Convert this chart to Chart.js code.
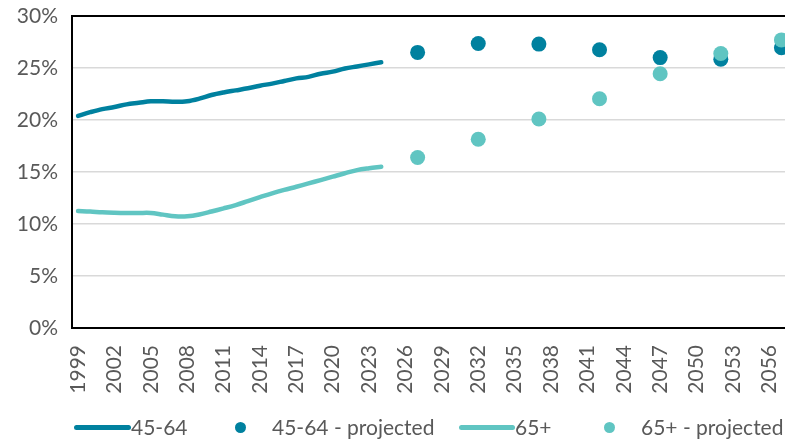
<!DOCTYPE html>
<html>
<head>
<meta charset="utf-8">
<script src="https://cdn.jsdelivr.net/npm/chart.js@4"></script>
<style>
html,body{margin:0;padding:0;background:#fff;}
#wrap{position:relative;width:785px;height:439px;overflow:hidden;}
canvas{position:absolute;left:0;top:0;}
.lg{position:absolute;font-family:Lato,sans-serif;font-size:21px;color:#595959;line-height:22px;white-space:nowrap;}
.ln{position:absolute;height:5px;border-radius:3px;}
.dt{position:absolute;width:11px;height:11px;border-radius:50%;}
</style>
</head>
<body>
<div id="wrap">
<canvas id="c" width="795" height="439"></canvas>
<div class="ln" style="left:74px;top:425px;width:57px;background:#00819F"></div>
<div class="lg" style="left:131px;top:416px">45-64</div>
<div class="dt" style="left:235px;top:422px;background:#00819F"></div>
<div class="lg" style="left:272px;top:416px">45-64 - projected</div>
<div class="ln" style="left:459px;top:425px;width:56px;background:#60C5C2"></div>
<div class="lg" style="left:515px;top:416px">65+</div>
<div class="dt" style="left:604px;top:422px;background:#60C5C2"></div>
<div class="lg" style="left:641px;top:416px">65+ - projected</div>
</div>
<script>
const startYear = 1999;
const endYear = 2057;
const histYears = [1999,2000,2001,2002,2003,2004,2005,2006,2007,2008,2009,2010,2011,2012,2013,2014,2015,2016,2017,2018,2019,2020,2021,2022,2023,2024];
const age4564 = [20.4,20.75,21.05,21.25,21.5,21.65,21.8,21.8,21.75,21.8,22.05,22.4,22.65,22.85,23.05,23.3,23.5,23.75,24.0,24.15,24.45,24.65,24.95,25.15,25.35,25.55];
const age65 = [11.25,11.2,11.12,11.08,11.06,11.06,11.06,10.9,10.75,10.75,10.92,11.2,11.5,11.82,12.2,12.58,12.95,13.28,13.58,13.9,14.22,14.55,14.88,15.18,15.36,15.5];
const projYears = [2027,2032,2037,2042,2047,2052,2057];
const proj4564 = [26.5,27.35,27.3,26.75,26.0,25.85,26.95];
const proj65 = [16.4,18.15,20.1,22.05,24.45,26.4,27.7];
const yTicks = [0,5,10,15,20,25,30];

const labels = [];
for (let y = startYear; y <= endYear; y++) labels.push(String(y));
function place(years, vals){
  const arr = labels.map(()=>null);
  years.forEach((y,i)=>{ arr[y-startYear] = vals[i]; });
  return arr;
}
const DARK = '#00819F', LIGHT = '#60C5C2';
new Chart(document.getElementById('c'), {
  type: 'line',
  data: {
    labels: labels,
    datasets: [
      {label:'65+ - projected', data: place(projYears, proj65), showLine:false, pointRadius:7.5, pointHoverRadius:7.5, backgroundColor:LIGHT, borderColor:LIGHT, pointBorderWidth:0, clip:false, order:0},
      {label:'45-64 - projected', data: place(projYears, proj4564), showLine:false, pointRadius:7.5, pointHoverRadius:7.5, backgroundColor:DARK, borderColor:DARK, pointBorderWidth:0, clip:false, order:1},
      {label:'65+', data: place(histYears, age65), borderColor:LIGHT, backgroundColor:LIGHT, borderWidth:4.5, pointRadius:0, tension:0.35, borderCapStyle:'round', spanGaps:false, order:2},
      {label:'45-64', data: place(histYears, age4564), borderColor:DARK, backgroundColor:DARK, borderWidth:4.5, pointRadius:0, tension:0.35, borderCapStyle:'round', spanGaps:false, order:3}
    ]
  },
  options: {
    responsive:false,
    animation:false,
    events:[],
    layout:{padding:{top:16,right:0,bottom:41,left:0}},
    plugins:{legend:{display:false},tooltip:{enabled:false}},
    scales:{
      x:{
        offset:true,
        grid:{display:false, drawTicks:false},
        border:{color:'#000',width:2},
        ticks:{
          autoSkip:false, maxRotation:90, minRotation:90, padding:17,
          color:'#595959', font:{family:'Lato', size:21},
          callback:function(v,i){ return (i%3===0) ? labels[i] : ''; }
        },
        afterFit:function(s){ s.height = 70; s.paddingLeft = 0; s.paddingRight = 0; }
      },
      y:{
        min:0,max:30,
        afterBuildTicks:function(s){ s.ticks = yTicks.map(v=>({value:v})); },
        grid:{
          drawTicks:false,
          color:function(c){ return (c.tick && c.tick.value===30) ? '#000' : '#D9D9D9'; },
          lineWidth:function(c){ return (c.tick && c.tick.value===30) ? 2 : 1.5; }
        },
        border:{color:'#000',width:2},
        ticks:{padding:14,color:'#595959',font:{family:'Lato',size:21},callback:function(v){return v+'%';}},
        afterFit:function(s){ s.width = 72; s.paddingTop = 0; s.paddingBottom = 0; }
      }
    }
  }
});
</script>
</body>
</html>
